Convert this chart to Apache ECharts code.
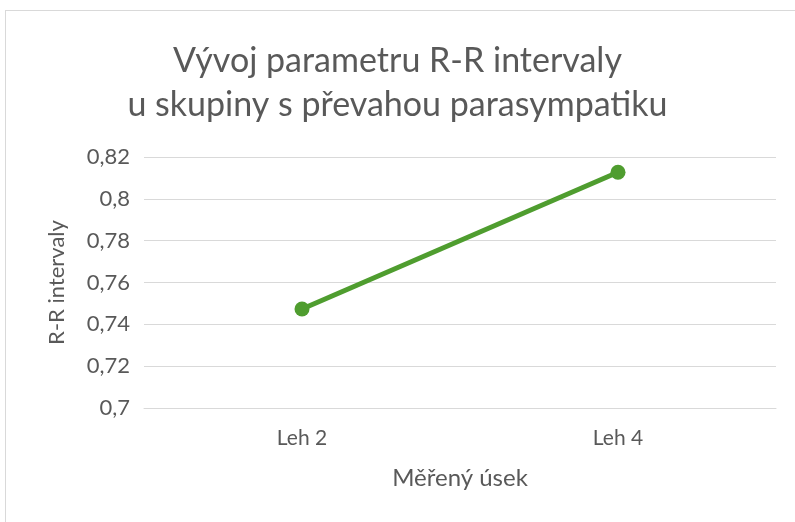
<!DOCTYPE html>
<html>
<head>
<meta charset="utf-8">
<script src="https://cdn.jsdelivr.net/npm/echarts@6/dist/echarts.min.js"></script>
<style>
  html, body { margin: 0; padding: 0; background: #fff; }
  .frame {
    position: absolute; left: 5px; top: 10px;
    width: 820px; height: 540px;
    border: 1px solid #d9d9d9;
  }
  #chart { position: absolute; left: 0; top: 0; width: 795px; height: 522px; }
</style>
</head>
<body>
<div class="frame"></div>
<div id="chart"></div>
<script>
// data
const categories = ['Leh 2', 'Leh 4'];
const rrValues = [0.7473, 0.8127];
const titleLines = ['Vývoj parametru R-R intervaly', 'u skupiny s převahou parasympatiku'];

const textColor = '#595959';
const fontFamily = 'Lato, "Open Sans", sans-serif';

const chart = echarts.init(document.getElementById('chart'));

const option = {
  animation: false,
  title: {
    text: titleLines.join('\n'),
    left: 'center',
    top: 34,
    textStyle: {
      color: textColor,
      fontFamily: fontFamily,
      fontSize: 34,
      fontWeight: 'normal',
      lineHeight: 44
    }
  },
  grid: {
    left: 144,
    right: 19,
    top: 157,
    bottom: 114
  },
  xAxis: {
    type: 'category',
    data: categories,
    name: 'Měřený úsek',
    nameLocation: 'middle',
    nameGap: 58,
    nameTextStyle: { color: textColor, fontFamily: fontFamily, fontSize: 24 },
    axisLine: { lineStyle: { color: '#d9d9d9', width: 1 } },
    axisTick: { show: false },
    axisLabel: { color: textColor, fontFamily: fontFamily, fontSize: 21, margin: 20 }
  },
  yAxis: {
    type: 'value',
    min: 0.7,
    max: 0.82,
    interval: 0.02,
    name: 'R-R intervaly',
    nameLocation: 'middle',
    nameGap: 76,
    nameTextStyle: { color: textColor, fontFamily: fontFamily, fontSize: 22 },
    axisLine: { show: false },
    axisTick: { show: false },
    splitLine: { lineStyle: { color: '#d9d9d9', width: 1 } },
    axisLabel: {
      color: textColor,
      fontFamily: fontFamily,
      fontSize: 22,
      margin: 14,
      formatter: v => String(Math.round(v * 100) / 100).replace('.', ',')
    }
  },
  series: [{
    type: 'line',
    data: rrValues,
    symbol: 'circle',
    symbolSize: 15,
    lineStyle: { color: '#4f9d2f', width: 5 },
    itemStyle: { color: '#4f9d2f' }
  }]
};

chart.setOption(option);
</script>
</body>
</html>
